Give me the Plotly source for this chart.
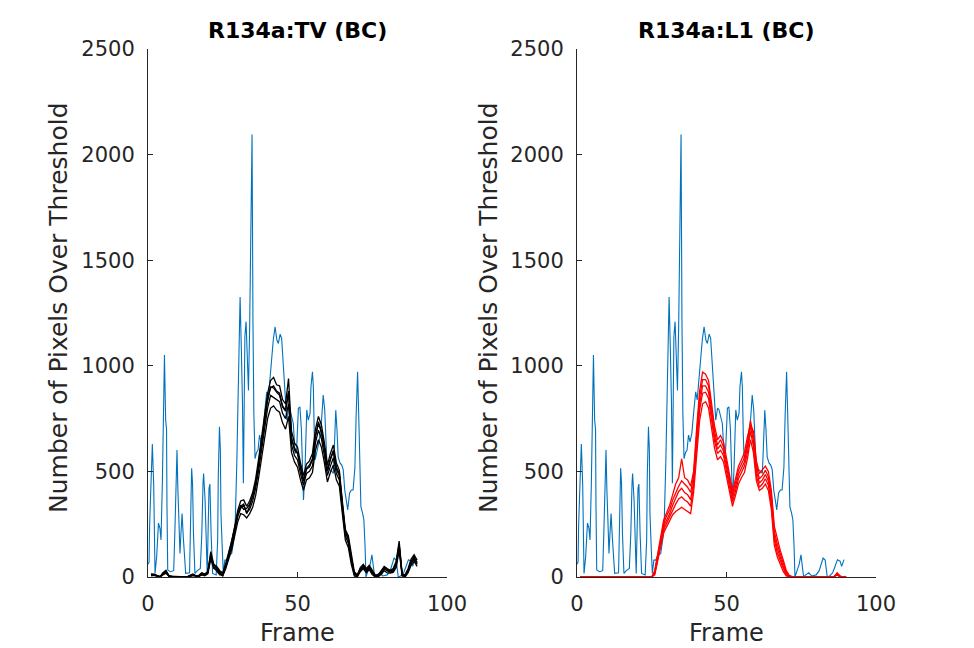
import plotly.graph_objects as go

# ---------------- data ----------------
blue_frames = [0.0, 0.35, 0.55, 1.0, 1.45, 1.9, 2.35, 2.9, 3.5, 4.0, 4.35, 4.8, 5.1, 5.5, 5.9, 6.2, 6.35, 6.6,
               7.5, 8.6, 9.0, 9.4, 9.7, 10.0, 10.4, 10.7, 11.0, 11.4, 11.8, 12.2, 12.6, 13.9, 14.4, 14.6, 14.9,
               15.2, 15.7, 16.5, 17.5, 18.0, 18.4, 18.6, 19.1, 19.5, 19.8, 20.4, 20.7, 21.1, 21.6, 22.8, 23.3,
               23.5, 23.9, 24.2, 24.4, 24.9, 25.2, 25.7, 26.3, 27.0, 28.0, 28.5, 29.1, 29.7, 30.2, 30.5, 30.8,
               31.2, 31.6, 31.9, 32.4, 32.8, 33.2, 33.6, 34.0, 34.3, 34.8, 35.1, 35.4, 35.8, 36.3, 36.8, 37.3,
               37.8, 38.4, 39.1, 39.7, 40.2, 40.8, 41.4, 41.9, 42.5, 43.1, 43.6, 44.2, 44.7, 45.0, 45.4, 45.6,
               46.1, 46.4, 47.0, 47.5, 48.6, 49.2, 49.7, 50.3, 50.8, 51.3, 52.0, 52.5, 53.1, 53.6, 54.2, 54.5,
               55.0, 55.3, 55.6, 55.9, 56.6, 57.3, 57.9, 58.3, 58.6, 59.1, 59.4, 59.8, 60.5, 61.5, 62.0, 62.4,
               62.8, 63.2, 63.6, 64.2, 64.8, 65.3, 65.8, 66.3, 66.8, 67.4, 68.0, 68.6, 69.2, 69.6, 69.9, 70.1,
               70.6, 70.9, 71.2, 71.8, 72.2, 72.6, 72.9, 73.6, 74.3, 74.9, 75.4, 75.8, 76.5, 77.5, 78.5, 80.0,
               81.0, 81.5, 82.3, 83.0, 83.7, 84.5, 85.5, 86.3, 87.1, 88.0, 88.5, 89.3]
blue_vals = [60, 70, 250, 443, 630, 443, 17, 96, 255, 230, 175, 443, 775, 1051, 743, 700, 332, 33,
             25, 30, 222, 412, 601, 412, 237, 111, 200, 300, 190, 110, 17, 20, 349, 515, 440,
             207, 17, 30, 40, 207, 443, 490, 360, 80, 17, 420, 440, 207, 17, 10, 175,
             474, 711, 600, 301, 112, 17, 80, 80, 100, 112, 160, 222, 538, 901, 1264, 1326,
             1090, 822, 444, 1138, 1209, 1058, 883, 1185, 1501, 2095, 1216, 775, 560, 590, 601, 672,
             640, 680, 791, 877, 838, 933, 1058, 1122, 1185, 1122, 1106, 1150, 1130, 1058, 982, 883,
             822, 743, 800, 791, 727, 585, 601, 799, 806, 700, 365, 507, 791, 743, 775, 901,
             972, 901, 680, 554, 601, 649, 712, 822, 862, 791, 649, 554, 510, 500, 490, 700,
             790, 700, 569, 540, 530, 507, 412, 365, 318, 397, 412, 412, 520, 760, 900, 972,
             696, 507, 333, 300, 270, 143, 0, 30, 60, 105, 50, 0, 10, 20, 5, 10,
             30, 50, 90, 80, 0, 5, 20, 50, 82, 75, 50, 82]

frames = list(range(1, 91))

black_1 = [5, 8, 3, 0, 10, 18, 3, 0, 0, 0, 0, 0, 0, 2, 6, 3, 2, 10, 6, 15,
           85, 40, 35, 15, 5, 40, 85, 130, 195, 260,
           300, 295, 280, 300, 330, 385, 470, 560, 650, 750,
           800, 810, 790, 780, 730, 700, 760, 590, 545, 520,
           460, 410, 460, 470, 495, 600, 650, 615, 540, 450,
           495, 530, 460, 430, 300, 175, 140, 60, 5, 0,
           25, 40, 20, 35, 12, 0, 2, 12, 30, 20,
           18, 22, 45, 125, 5, 0, 20, 55, 75, 50]
black_2 = [8, 12, 5, 2, 14, 22, 6, 2, 0, 1, 0, 2, 0, 4, 9, 5, 4, 13, 9, 18,
           95, 55, 45, 25, 15, 55, 100, 150, 215, 285,
           325, 340, 305, 320, 360, 420, 505, 600, 700, 800,
           860, 850, 840, 830, 775, 750, 820, 625, 575, 555,
           490, 435, 490, 500, 525, 635, 695, 655, 575, 480,
           525, 565, 490, 460, 320, 195, 160, 75, 12, 5,
           30, 50, 30, 45, 18, 5, 5, 18, 38, 28,
           22, 28, 55, 140, 8, 5, 28, 65, 85, 60]
black_3 = [10, 10, 6, 0, 18, 28, 5, 0, 1, 0, 0, 0, 1, 6, 11, 4, 6, 16, 11, 22,
           110, 45, 30, 10, 10, 45, 95, 145, 225, 300,
           340, 320, 325, 345, 380, 445, 530, 635, 735, 835,
           900, 895, 875, 860, 805, 785, 870, 655, 600, 585,
           515, 455, 510, 520, 555, 665, 725, 685, 605, 500,
           555, 595, 510, 480, 340, 210, 175, 85, 18, 8,
           40, 55, 35, 50, 25, 8, 8, 22, 45, 35,
           28, 35, 65, 155, 12, 8, 35, 75, 95, 70]
black_4 = [12, 9, 4, 3, 12, 25, 8, 1, 0, 2, 1, 0, 0, 5, 12, 7, 5, 18, 12, 24,
           120, 60, 50, 30, 20, 65, 115, 170, 240, 315,
           360, 365, 335, 360, 400, 465, 560, 665, 770, 870,
           930, 945, 910, 905, 840, 820, 940, 690, 635, 615,
           540, 480, 535, 550, 585, 700, 760, 720, 635, 530,
           585, 625, 540, 505, 360, 225, 195, 100, 25, 10,
           45, 60, 40, 55, 30, 10, 10, 28, 50, 40,
           32, 40, 75, 170, 15, 10, 40, 85, 105, 80]
black_5 = [15, 14, 8, 1, 20, 32, 4, 3, 1, 0, 2, 1, 0, 8, 14, 6, 8, 20, 14, 26,
           100, 50, 40, 20, 8, 50, 110, 160, 230, 295,
           335, 345, 300, 335, 385, 440, 540, 640, 745, 850,
           895, 905, 880, 870, 810, 790, 880, 660, 610, 590,
           520, 460, 515, 530, 560, 670, 735, 690, 610, 505,
           560, 600, 520, 490, 345, 215, 185, 90, 20, 3,
           35, 45, 25, 40, 20, 3, 3, 20, 40, 30,
           25, 30, 60, 150, 10, 3, 30, 70, 90, 65]

red_1 = [0, 0, 0, 0, 0, 0, 0, 0, 0, 0, 0, 0, 0, 0, 0, 0, 0, 0, 0, 0, 0, 0, 0, 0, 0,
         10, 70, 145, 210, 240, 265, 295, 310, 320, 330,
         320, 310, 300, 400, 590, 740, 820, 830, 800, 710,
         610, 555, 570, 545, 480, 410, 335, 385, 440, 470,
         495, 560, 650, 590, 455, 410, 420, 440, 410, 320,
         150, 95, 55, 25, 5, 0, 0, 0, 0, 0,
         0, 0, 0, 0, 0, 0, 0, 0, 0, 0,
         0, 10, 0, 0, 0]
red_2 = [0, 0, 0, 0, 0, 0, 0, 0, 0, 0, 0, 0, 0, 0, 0, 0, 0, 0, 0, 0, 0, 0, 0, 0, 0,
         15, 80, 160, 225, 255, 285, 320, 345, 370, 380,
         365, 355, 335, 430, 620, 790, 870, 875, 845, 750,
         645, 585, 600, 575, 505, 435, 355, 405, 465, 495,
         525, 590, 690, 620, 480, 425, 440, 465, 435, 345,
         175, 115, 75, 40, 10, 2, 0, 0, 0, 0,
         0, 0, 0, 0, 0, 0, 0, 0, 0, 0,
         0, 15, 3, 0, 0]
red_3 = [0, 0, 0, 0, 0, 0, 0, 0, 0, 0, 0, 0, 0, 0, 0, 0, 0, 0, 0, 0, 0, 0, 0, 0, 0,
         20, 90, 170, 240, 270, 300, 340, 375, 405, 420,
         400, 390, 365, 455, 645, 815, 905, 905, 875, 775,
         665, 605, 625, 595, 525, 455, 375, 425, 485, 515,
         545, 615, 715, 645, 505, 445, 460, 485, 455, 365,
         195, 135, 90, 50, 15, 3, 0, 0, 0, 0,
         0, 0, 0, 0, 0, 0, 0, 0, 0, 0,
         2, 15, 0, 0, 0]
red_4 = [0, 0, 0, 0, 0, 0, 0, 0, 0, 0, 0, 0, 0, 0, 0, 0, 0, 0, 0, 0, 0, 0, 0, 0, 0,
         25, 100, 185, 255, 290, 320, 365, 400, 430, 455,
         440, 425, 400, 480, 670, 850, 935, 935, 905, 800,
         690, 625, 650, 615, 545, 475, 395, 445, 505, 535,
         565, 640, 740, 670, 530, 465, 480, 505, 475, 385,
         215, 155, 105, 65, 20, 5, 0, 0, 0, 0,
         0, 0, 0, 0, 0, 0, 0, 0, 0, 0,
         0, 20, 5, 0, 0]
red_5 = [0, 0, 0, 0, 0, 0, 0, 0, 0, 0, 0, 0, 0, 0, 0, 0, 0, 0, 0, 0, 0, 0, 0, 0, 0,
         30, 110, 195, 270, 305, 340, 390, 440, 470, 560,
         470, 460, 430, 500, 700, 880, 970, 960, 930, 830,
         715, 650, 670, 640, 565, 495, 410, 465, 525, 555,
         590, 665, 720, 690, 550, 490, 505, 525, 500, 410,
         240, 180, 125, 80, 30, 8, 2, 0, 0, 0,
         0, 0, 0, 0, 0, 0, 0, 0, 0, 0,
         3, 15, 0, 2, 0]

black_lines = [black_1, black_2, black_3, black_4, black_5]
red_lines = [red_1, red_2, red_3, red_4, red_5]

titles = ["R134a:TV (BC)", "R134a:L1 (BC)"]
x_label = "Frame"
y_label = "Number of Pixels Over Threshold"
x_ticks = [0, 50, 100]
y_ticks = [0, 500, 1000, 1500, 2000, 2500]

# ---------------- figure ----------------
BLUE = "#0072BD"
AX = "#262626"
FONT = "DejaVu Sans"

fig = go.Figure()
for xa, ya, lines, col in [("x", "y", black_lines, "#000000"), ("x2", "y2", red_lines, "#FF0000")]:
    fig.add_trace(go.Scatter(x=blue_frames, y=blue_vals, mode="lines", xaxis=xa, yaxis=ya,
                             line=dict(color=BLUE, width=1.1), showlegend=False, hoverinfo="skip"))
    for ln in lines:
        fig.add_trace(go.Scatter(x=frames, y=ln, mode="lines", xaxis=xa, yaxis=ya,
                                 line=dict(color=col, width=1.3), showlegend=False, hoverinfo="skip"))

xdom = [[148 / 974, 447 / 974], [577 / 974, 876 / 974]]
ydom = [1 - 577 / 648, 1 - 49 / 648]

axis_common = dict(showline=True, linecolor=AX, linewidth=1, ticks="inside", ticklen=5,
                   tickcolor=AX, tickwidth=1, showgrid=False, zeroline=False, mirror=False,
                   automargin=False,
                   tickfont=dict(family=FONT, size=21, color=AX), ticklabelstandoff=8)

fig.update_layout(
    width=974, height=648, margin=dict(l=0, r=0, t=0, b=0, pad=0, autoexpand=False),
    paper_bgcolor="white", plot_bgcolor="white",
    xaxis=dict(domain=xdom[0], range=[0, 100], tickvals=x_ticks, anchor="y", **axis_common),
    yaxis=dict(domain=ydom, range=[0, 2500], tickvals=y_ticks, anchor="x", **axis_common),
    xaxis2=dict(domain=xdom[1], range=[0, 100], tickvals=x_ticks, anchor="y2", **axis_common),
    yaxis2=dict(domain=ydom, range=[0, 2500], tickvals=y_ticks, anchor="x2", **axis_common),
)

ann = []
for i in range(2):
    cx = (xdom[i][0] + xdom[i][1]) / 2
    ann.append(dict(text="<b>" + titles[i] + "</b>", x=cx, y=1 - 31 / 648, xref="paper", yref="paper",
                    showarrow=False, xanchor="center", yanchor="middle",
                    font=dict(family=FONT, size=22, color="#000000")))
    ann.append(dict(text=x_label, x=cx, y=1 - 633 / 648, xref="paper", yref="paper",
                    showarrow=False, xanchor="center", yanchor="middle",
                    font=dict(family=FONT, size=24, color=AX)))
    ylx = (58 if i == 0 else 488) / 974
    ann.append(dict(text=y_label, x=ylx, y=1 - 308 / 648, xref="paper", yref="paper",
                    showarrow=False, xanchor="center", yanchor="middle", textangle=-90,
                    font=dict(family=FONT, size=25, color=AX)))
fig.update_layout(annotations=ann)

fig.write_html("out.html")
